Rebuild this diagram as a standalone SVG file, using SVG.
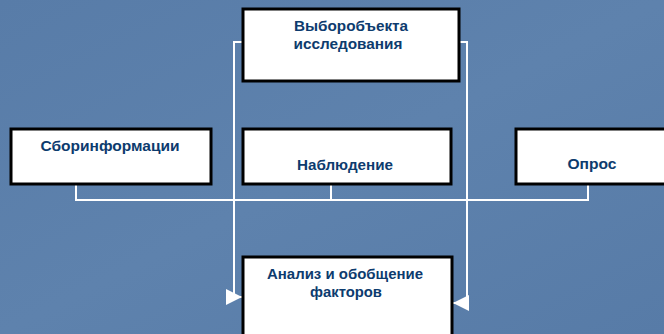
<svg xmlns="http://www.w3.org/2000/svg" width="664" height="334" viewBox="0 0 664 334">
<defs>
<linearGradient id="bg" x1="0" y1="0" x2="1" y2="1">
<stop offset="0" stop-color="#587ca8"/>
<stop offset="0.5" stop-color="#5e82ad"/>
<stop offset="1" stop-color="#577ba7"/>
</linearGradient>
<marker id="ah" viewBox="0 0 10 10" refX="10" refY="5" markerWidth="16" markerHeight="16" markerUnits="userSpaceOnUse" orient="auto">
<path d="M0,0 L10,5 L0,10 z" fill="#ffffff"/>
</marker>
<style>
.box{fill:#ffffff;stroke:#000000;stroke-width:3}
.t{font-family:"Liberation Sans",Arial,sans-serif;font-size:15px;font-weight:bold;fill:#0d3b6e;text-anchor:middle}
.c{fill:none;stroke:#ffffff;stroke-width:2}
</style>
</defs>
<rect width="664" height="334" fill="url(#bg)"/>
<g id="connectors">
<polyline class="c" points="243,42 234,42 234,297 242,297" marker-end="url(#ah)"/>
<polyline class="c" points="459,42 467,42 467,303 453,303" marker-end="url(#ah)"/>
<line class="c" x1="76" y1="185" x2="76" y2="200"/>
<line class="c" x1="331" y1="185" x2="331" y2="200"/>
<line class="c" x1="588" y1="185" x2="588" y2="200"/>
<line class="c" x1="75" y1="200" x2="589" y2="200"/>
</g>
<g id="n1">
<rect class="box" x="243" y="9" width="216" height="72"/>
<text class="t" x="351" y="31" textLength="114" lengthAdjust="spacingAndGlyphs">Выборобъекта</text>
<text class="t" x="348" y="49" textLength="109" lengthAdjust="spacingAndGlyphs">исследования</text>
</g>
<g id="n2">
<rect class="box" x="11" y="129" width="200" height="55"/>
<text class="t" x="110" y="151" textLength="139" lengthAdjust="spacingAndGlyphs">Сборинформации</text>
</g>
<g id="n3">
<rect class="box" x="243" y="129" width="208" height="55"/>
<text class="t" x="345" y="170" textLength="96" lengthAdjust="spacingAndGlyphs">Наблюдение</text>
</g>
<g id="n4">
<rect class="box" x="516" y="129" width="156" height="55"/>
<text class="t" x="592" y="169" textLength="49" lengthAdjust="spacingAndGlyphs">Опрос</text>
</g>
<g id="n5">
<rect class="box" x="243" y="257" width="209" height="90"/>
<text class="t" x="345" y="279" textLength="156" lengthAdjust="spacingAndGlyphs">Анализ и обобщение</text>
<text class="t" x="346" y="297" textLength="72" lengthAdjust="spacingAndGlyphs">факторов</text>
</g>
</svg>
